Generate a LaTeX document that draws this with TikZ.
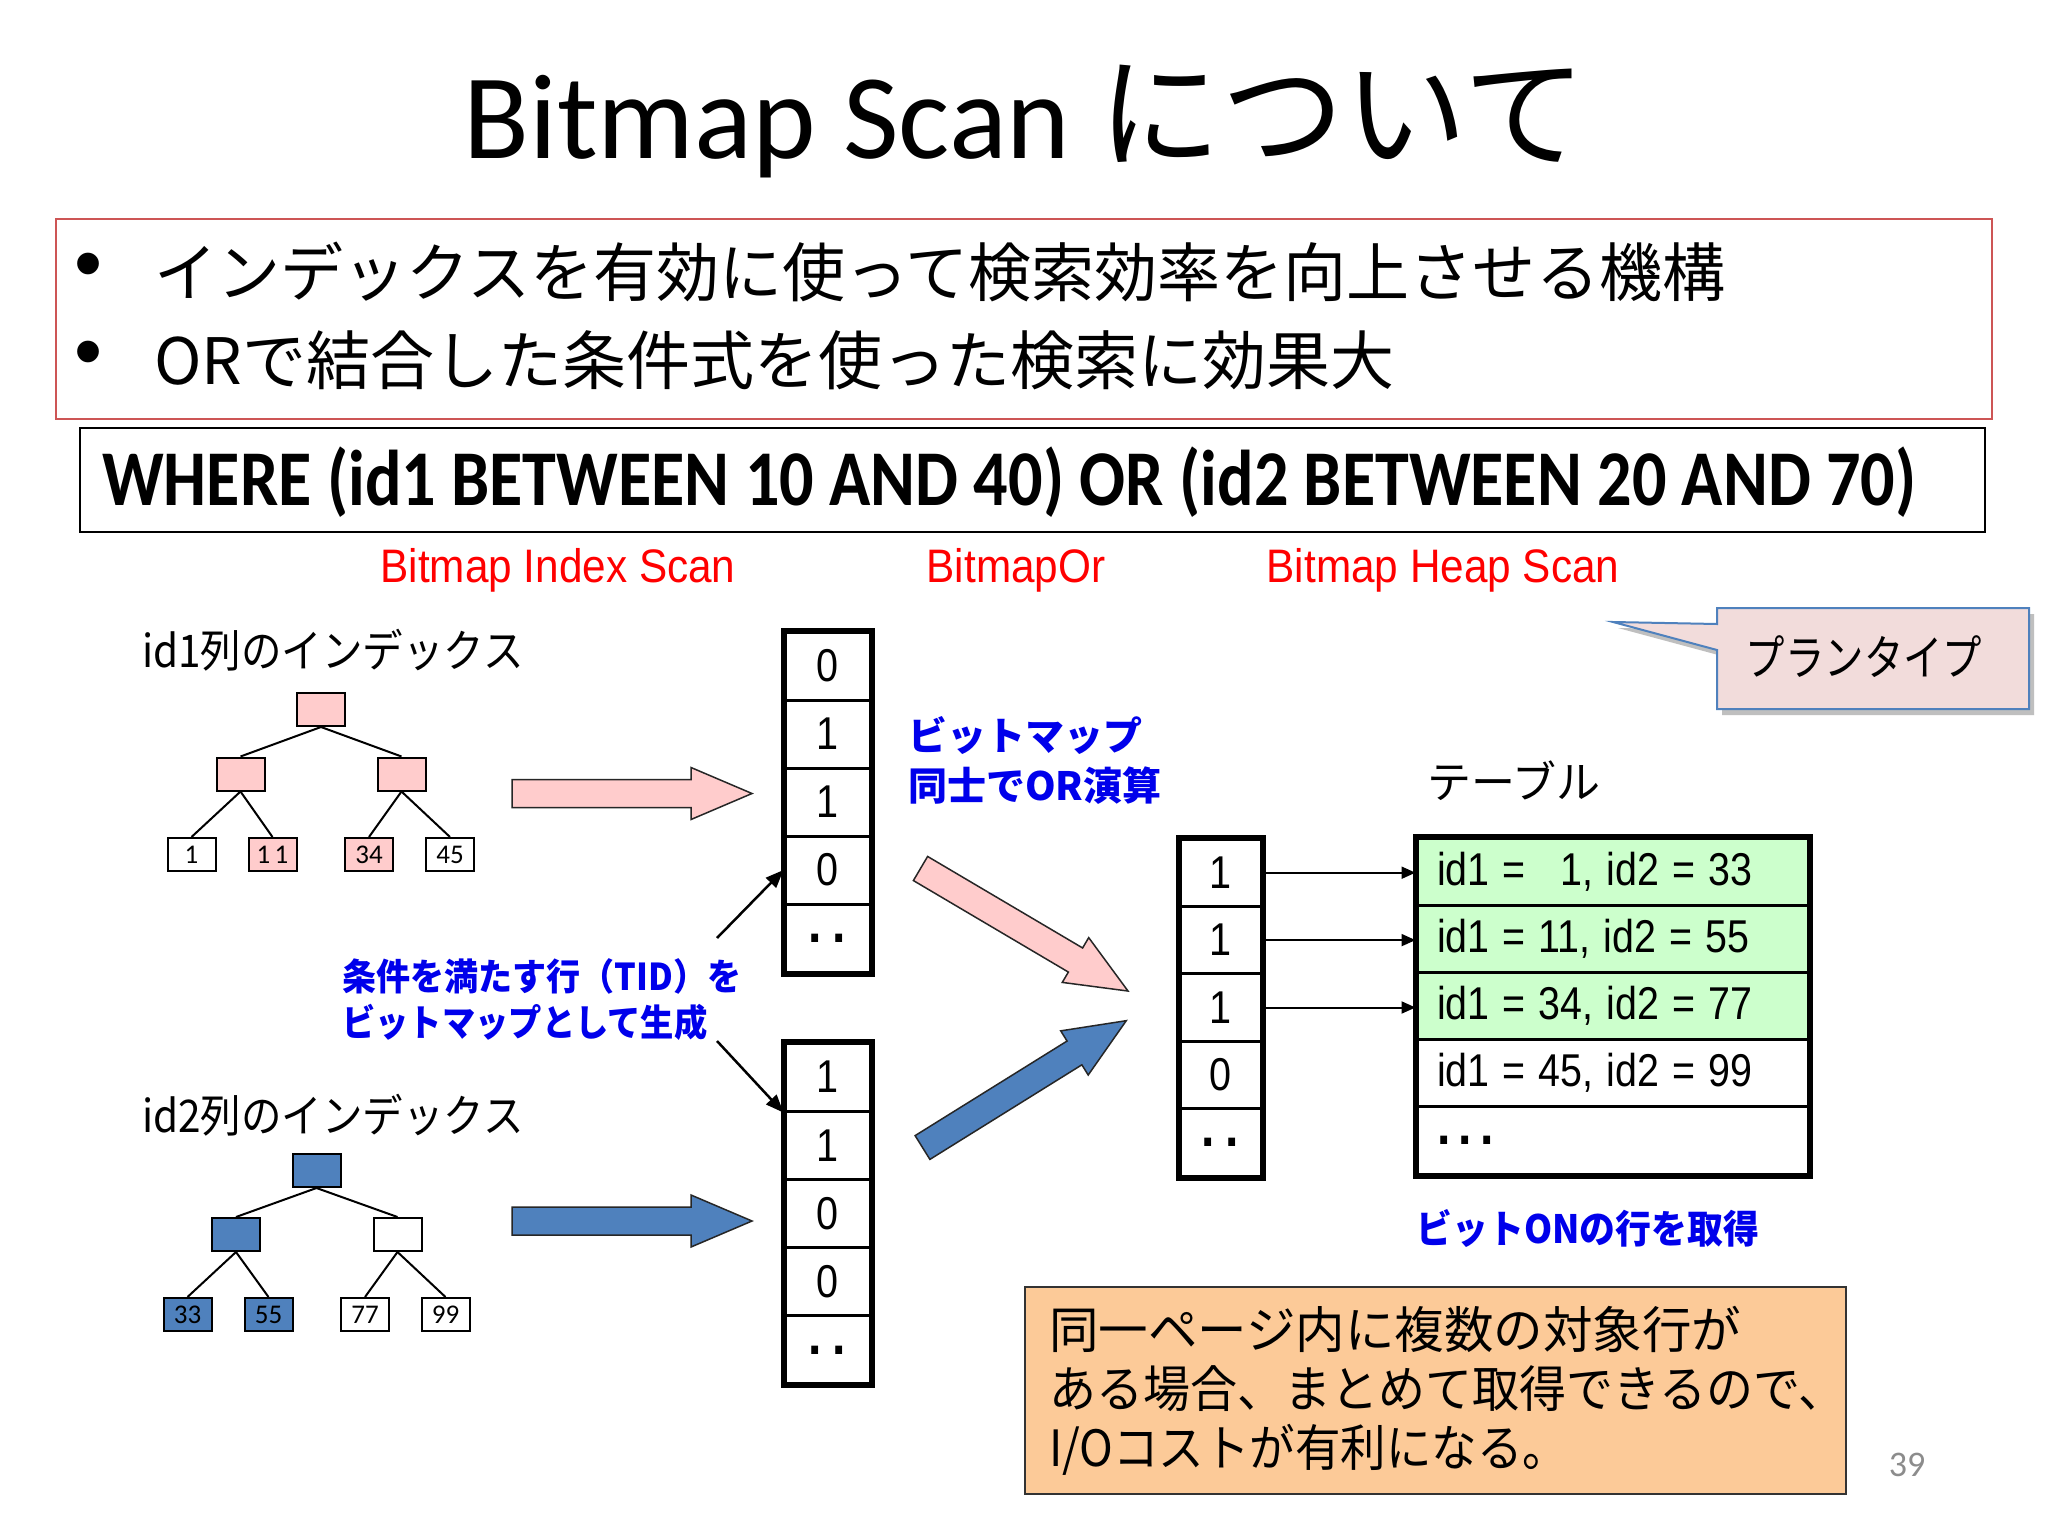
\documentclass[tikz,border=0pt]{standalone}
\usepackage{fontspec}
\usepackage{graphicx}
\usetikzlibrary{arrows.meta}
\setmainfont{Liberation Sans}
\newfontfamily\calfont{Carlito}
\newfontfamily\jpfont{Noto Sans CJK JP}
\definecolor{pinkf}{RGB}{255,204,204}
\definecolor{bluef}{RGB}{79,129,189}
\definecolor{greenf}{RGB}{204,255,204}
\definecolor{notef}{RGB}{252,202,152}
\definecolor{calloutf}{RGB}{242,220,219}
\definecolor{calloutb}{RGB}{79,129,189}
\definecolor{redb}{RGB}{205,85,85}
\definecolor{labred}{RGB}{255,0,0}
\definecolor{labblue}{RGB}{0,0,235}
\newcommand\sx[2]{\scalebox{#1}[1]{#2}}
\newcommand\fs[1]{\fontsize{#1}{#1}\selectfont}
\newcommand\fsb[2]{\fontsize{#1}{#2}\selectfont}
\newcommand\twodots{.\hspace{12pt}.}
\newcommand\threedots{.\hspace{10pt}.\hspace{10pt}.}
\newcommand\blockarrow[4]{%
  \begin{scope}[shift={#2}, rotate=#3]
    \draw[#1] (0,-14) -- (#4-61,-14) -- (#4-61,-26) -- (#4,0) -- (#4-61,26) -- (#4-61,14) -- (0,14) -- cycle;
  \end{scope}}
\tikzset{
  tbox/.style={draw, line width=2pt, minimum width=48pt, minimum height=33pt, inner sep=0pt, font=\calfont\fs{27}},
  pk/.style={tbox, fill=pinkf},
  bl/.style={tbox, fill=bluef},
  tedge/.style={line width=2pt},
  bitc/.style={draw, line width=3pt, minimum width=85pt, minimum height=68pt, inner sep=0pt, font=\fs{46}},
  bitc3/.style={draw, line width=3pt, minimum width=81pt, minimum height=67.4pt, inner sep=0pt, font=\fs{46}},
  dots/.style={font=\bfseries\fs{56}},
  trow/.style={draw, line width=3pt, minimum width=391pt, minimum height=67.2pt, inner xsep=20pt, inner ysep=0pt, text width=351pt, align=left, font=\fs{46}},
  frame/.style={line width=6pt},
  ptr/.style={line width=2.5pt, -{Triangle[length=18pt, width=14pt]}},
  tarr/.style={line width=2pt, -{Triangle[length=14pt, width=12pt]}},
  pinkarr/.style={fill=pinkf, draw=black!85, line width=1.5pt},
  bluearr/.style={fill=bluef, draw=black!85, line width=1.5pt},
  redlab/.style={text=labred, font=\fs{47}, inner sep=0pt},
}
\begin{document}
\begin{tikzpicture}[x=1pt,y=-1pt]
\fill[white] (0,0) rectangle (2048,1536);
\useasboundingbox (0,0) rectangle (2048,1536);

% title
\node[anchor=base, inner sep=0pt] (title) at (1025,159) {\fs{121}\calfont Bitmap Scan \jpfont\fs{123}について};

% goal box
\node[draw=redb, line width=2pt, minimum width=1936pt, minimum height=200pt, inner sep=0pt] (goal) at (1024,319) {};
\node[font=\fs{80}, inner sep=0pt] (bul1) at (89,272) {•};
\node[anchor=west, inner sep=0pt, font=\jpfont\fs{64}] (line1) at (154,272) {\sx{0.985}{インデックスを有効に使って検索効率を向上させる機構}};
\node[font=\fs{80}, inner sep=0pt] (bul2) at (89,360) {•};
\node[anchor=west, inner sep=0pt, font=\jpfont\fs{64}] (line2) at (154,360) {ORで結合した条件式を使った検索に効果大};

% SQL
\node[draw, line width=2pt, minimum width=1905pt, minimum height=104pt, inner sep=0pt] (sqlbox) at (1032.5,480) {};
\node[anchor=west, inner sep=0pt, font=\calfont\bfseries\fs{79}] (sql) at (102,482) {\sx{0.862}{WHERE (id1 BETWEEN 10 AND 40) OR (id2 BETWEEN 20 AND 70)}};

% red labels
\node[redlab] (lbis) at (558,570) {\sx{0.9}{Bitmap Index Scan}};
\node[redlab] (lbor) at (1016,570) {\sx{0.9}{BitmapOr}};
\node[redlab] (lbhs) at (1443,570) {\sx{0.9}{Bitmap Heap Scan}};

% index labels
\node[anchor=west, inner sep=0pt, font=\jpfont\fs{45}] (idx1) at (142,650) {\sx{0.9}{id1列のインデックス}};
\node[anchor=west, inner sep=0pt, font=\jpfont\fs{45}] (idx2) at (142,1115) {\sx{0.9}{id2列のインデックス}};

% tree 1
\node[pk] (t1r) at (321,709.5) {};
\node[pk] (t1a) at (240.5,774) {};
\node[pk] (t1b) at (401.5,774) {};
\node[tbox] (t1c) at (191.5,854.5) {1};
\node[pk] (t1d) at (272.5,854.5) {1\,1};
\node[pk] (t1e) at (369,854.5) {34};
\node[tbox] (t1f) at (450,854.5) {45};
\draw[tedge] (t1r.south) -- (t1a.north);
\draw[tedge] (t1r.south) -- (t1b.north);
\draw[tedge] (t1a.south) -- (t1c.north);
\draw[tedge] (t1a.south) -- (t1d.north);
\draw[tedge] (t1b.south) -- (t1e.north);
\draw[tedge] (t1b.south) -- (t1f.north);

% tree 2
\node[bl] (t2r) at (316.5,1170.5) {};
\node[bl] (t2a) at (236,1234.5) {};
\node[tbox] (t2b) at (397.5,1234.5) {};
\node[bl] (t2c) at (187.5,1314.5) {33};
\node[bl] (t2d) at (268.5,1314.5) {55};
\node[tbox] (t2e) at (365,1314.5) {77};
\node[tbox] (t2f) at (445.5,1314.5) {99};
\draw[tedge] (t2r.south) -- (t2a.north);
\draw[tedge] (t2r.south) -- (t2b.north);
\draw[tedge] (t2a.south) -- (t2c.north);
\draw[tedge] (t2a.south) -- (t2d.north);
\draw[tedge] (t2b.south) -- (t2e.north);
\draw[tedge] (t2b.south) -- (t2f.north);

% block arrows
\blockarrow{pinkarr}{(512,793.5)}{0}{240}
\blockarrow{bluearr}{(512,1221)}{0}{240}
\blockarrow{pinkarr}{(920.5,868.5)}{-30.56}{241}
\blockarrow{bluearr}{(922.5,1147.5)}{31.9}{240}

% bitmap 1
\node[bitc] (a1) at (827.5,666) {\sx{0.86}{0}};
\node[bitc] (a2) at (827.5,734) {\sx{0.86}{1}};
\node[bitc] (a3) at (827.5,802) {\sx{0.86}{1}};
\node[bitc] (a4) at (827.5,870) {\sx{0.86}{0}};
\node[bitc, dots] (a5) at (827.5,938) {\sx{0.86}{\twodots}};
\draw[frame] (a1.north west) rectangle (a5.south east);

% bitmap 2
\node[bitc] (b1) at (827.5,1077.1) {\sx{0.86}{1}};
\node[bitc] (b2) at (827.5,1145.3) {\sx{0.86}{1}};
\node[bitc] (b3) at (827.5,1213.5) {\sx{0.86}{0}};
\node[bitc] (b4) at (827.5,1281.7) {\sx{0.86}{0}};
\node[bitc, dots] (b5) at (827.5,1349.9) {\sx{0.86}{\twodots}};
\draw[frame] (b1.north west) rectangle (b5.south east);

% pointer label
\node[anchor=west, align=left, text=labblue, inner sep=0pt, font=\jpfont\bfseries\fsb{37}{46}] (tidlab) at (342,1000) {\sx{0.92}{条件を満たす行（TID）を}\\\sx{0.9}{ビットマップとして生成}};
\coordinate (p1) at (717,938);
\coordinate (p2) at (717,1041);
\draw[ptr] (p1) -- (a4.west);
\draw[ptr] (p2) -- (b1.south west);

% OR label
\node[anchor=west, align=left, text=labblue, inner sep=0pt, font=\jpfont\bfseries\fsb{39}{50}] (orlab) at (908,760) {ビットマップ\\同士でOR演算};

% bitmap 3
\node[bitc3] (c1) at (1220.5,872.7) {\sx{0.86}{1}};
\node[bitc3] (c2) at (1220.5,940.1) {\sx{0.86}{1}};
\node[bitc3] (c3) at (1220.5,1007.5) {\sx{0.86}{1}};
\node[bitc3] (c4) at (1220.5,1074.9) {\sx{0.86}{0}};
\node[bitc3, dots] (c5) at (1220.5,1142.3) {\sx{0.86}{\twodots}};
\draw[frame] (c1.north west) rectangle (c5.south east);

% table
\node[font=\jpfont\fs{44}, inner sep=0pt] (tbl) at (1514,781) {テーブル};
\node[trow, fill=greenf] (r1) at (1612.5,871.6) {\sx{0.856}{id1 = \phantom{1}1, id2 = 33}};
\node[trow, fill=greenf] (r2) at (1612.5,938.8) {\sx{0.856}{id1 = 11, id2 = 55}};
\node[trow, fill=greenf] (r3) at (1612.5,1006) {\sx{0.856}{id1 = 34, id2 = 77}};
\node[trow] (r4) at (1612.5,1073.2) {\sx{0.856}{id1 = 45, id2 = 99}};
\node[trow, dots] (r5) at (1612.5,1140.4) {\sx{0.86}{\threedots}};
\draw[frame] (r1.north west) rectangle (r5.south east);
\draw[tarr] (c1.east) -- (c1.east -| r1.west);
\draw[tarr] (c2.east) -- (c2.east -| r2.west);
\draw[tarr] (c3.east) -- (c3.east -| r3.west);
\node[text=labblue, inner sep=0pt, font=\jpfont\bfseries\fs{39}] (onlab) at (1588,1228) {\sx{0.92}{ビットONの行を取得}};

% callout
\begin{scope}[shift={(5,6)}]
\fill[black!25] (1717,608) -- (2029,608) -- (2029,709) -- (1717,709) -- (1717,650) -- (1613,622) -- (1717,624) -- cycle;
\end{scope}
\draw[fill=calloutf, draw=calloutb, line width=2pt] (1717,608) -- (2029,608) -- (2029,709) -- (1717,709) -- (1717,650) -- (1613,622) -- (1717,624) -- cycle;
\node[font=\jpfont\fs{48}, inner sep=0pt] (plan) at (1864,657) {\sx{0.82}{プランタイプ}};

% note
\node[draw=black!80, line width=2pt, fill=notef, minimum width=821pt, minimum height=207pt, text width=773pt, inner xsep=24pt, inner ysep=0pt, align=left, font=\jpfont\fsb{50}{59}] (note) at (1435.5,1390.5) {\sx{0.99}{同一ページ内に複数の対象行が}\\\sx{0.94}{ある場合、まとめて取得できるので、}\\\sx{0.91}{I/Oコストが有利になる。}};

\node[text=black!45, inner sep=0pt, font=\calfont\fs{36}] (pg) at (1907,1465) {39};
\end{tikzpicture}
\end{document}
